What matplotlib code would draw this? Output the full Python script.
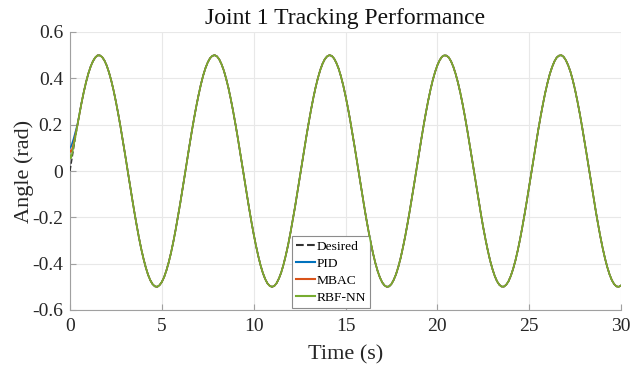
import matplotlib
matplotlib.use('Agg')
import matplotlib.pyplot as plt

# desired joint angle (rad) read every 0.25 s, t = 0 ... 30
desired_q = [
  0.000, 0.124, 0.240, 0.341, 0.421, 0.474, 0.499, 0.492, 0.455, 0.389,
  0.299, 0.191, 0.071, -0.054, -0.175, -0.286, -0.378, -0.448, -0.489, -0.500,
  -0.479, -0.429, -0.353, -0.254, -0.140, -0.017, 0.108, 0.225, 0.328, 0.412,
  0.469, 0.497, 0.495, 0.461, 0.399, 0.312, 0.206, 0.087, -0.038, -0.160,
  -0.272, -0.367, -0.440, -0.485, -0.500, -0.484, -0.438, -0.364, -0.268, -0.156,
  -0.033, 0.091, 0.210, 0.316, 0.402, 0.463, 0.495, 0.497, 0.467, 0.409,
  0.325, 0.221, 0.103, -0.021, -0.144, -0.258, -0.356, -0.432, -0.481, -0.500,
  -0.488, -0.446, -0.376, -0.282, -0.171, -0.050, 0.075, 0.195, 0.303, 0.392,
  0.456, 0.493, 0.498, 0.473, 0.418, 0.338, 0.236, 0.119, -0.004, -0.128,
  -0.244, -0.344, -0.423, -0.476, -0.499, -0.491, -0.453, -0.387, -0.296, -0.187,
  -0.066, 0.058, 0.180, 0.289, 0.381, 0.449, 0.490, 0.500, 0.478, 0.428,
  0.350, 0.250, 0.135, 0.012, -0.112, -0.229, -0.332, -0.414, -0.471, -0.498,
  -0.494,
]
# desired joint angle (rad) read halfway between, t = 0.125 ... 29.875
desired_m = [
  0.062, 0.183, 0.293, 0.384, 0.451, 0.490, 0.499, 0.477, 0.425, 0.347,
  0.247, 0.132, 0.008, -0.115, -0.232, -0.335, -0.416, -0.472, -0.498, -0.493,
  -0.458, -0.394, -0.306, -0.198, -0.079, 0.046, 0.168, 0.279, 0.373, 0.444,
  0.487, 0.500, 0.482, 0.434, 0.359, 0.261, 0.148, 0.025, -0.099, -0.218,
  -0.322, -0.407, -0.466, -0.496, -0.496, -0.464, -0.404, -0.319, -0.213, -0.095,
  0.029, 0.152, 0.265, 0.362, 0.436, 0.483, 0.500, 0.486, 0.442, 0.370,
  0.275, 0.163, 0.041, -0.083, -0.203, -0.309, -0.397, -0.460, -0.494, -0.498,
  -0.470, -0.414, -0.331, -0.228, -0.111, 0.013, 0.136, 0.251, 0.350, 0.427,
  0.478, 0.499, 0.490, 0.449, 0.381, 0.289, 0.179, 0.058, -0.067, -0.187,
  -0.296, -0.387, -0.453, -0.491, -0.499, -0.476, -0.423, -0.344, -0.243, -0.128,
  -0.004, 0.120, 0.236, 0.338, 0.419, 0.473, 0.498, 0.493, 0.456, 0.392,
  0.302, 0.194, 0.074, -0.050, -0.172, -0.283, -0.376, -0.446, -0.488, -0.500,
]

# start-up transient (first 0.5 s), finer sampling
t_start = [0.0, 0.05, 0.1, 0.2, 0.3, 0.4, 0.5]
desired_start = [0.000, 0.025, 0.050, 0.100, 0.148, 0.195, 0.240]
pid_start = [0.100, 0.105, 0.115, 0.140, 0.170, 0.200, 0.240]
mbac_start = [0.088, 0.082, 0.090, 0.120, 0.158, 0.196, 0.240]
rbf_start = [0.068, 0.055, 0.070, 0.110, 0.150, 0.195, 0.240]

x_ticks = [0, 5, 10, 15, 20, 25, 30]
y_ticks = [-0.6, -0.4, -0.2, 0, 0.2, 0.4, 0.6]
y_tick_labels = ['-0.6', '-0.4', '-0.2', '0', '0.2', '0.4', '0.6']

# merge the two readings into one time-ordered series
pts = [(0.25 * i, v) for i, v in enumerate(desired_q)] + \
      [(0.125 + 0.25 * i, v) for i, v in enumerate(desired_m)]
pts.sort()
pts = [p for p in pts if p[0] > t_start[-1]]
t_rest = [p[0] for p in pts]
y_rest = [p[1] for p in pts]

# after the transient all controllers sit on the desired trajectory
t_all = t_start + t_rest
des = desired_start + y_rest
pid = pid_start + y_rest
mbac = mbac_start + y_rest
rbf = rbf_start + y_rest

plt.rcParams['font.family'] = ['Liberation Serif', 'DejaVu Serif']

fig = plt.figure(figsize=(6.3, 3.69), dpi=100)
ax = fig.add_axes([70 / 630, 1 - 310 / 369, 551 / 630, 278 / 369])

ax.plot(t_all, des, '--', color='#333333', lw=1.0, label='Desired', zorder=3)
ax.plot(t_all, pid, color='#0072BD', lw=1.2, label='PID', zorder=4)
ax.plot(t_all, mbac, color='#D95319', lw=1.2, label='MBAC', zorder=5)
ax.plot(t_all, rbf, color='#77AC30', lw=1.2, label='RBF-NN', zorder=6)

ax.set_xlim(0, 30)
ax.set_ylim(-0.6, 0.6)
ax.set_xticks(x_ticks)
ax.set_yticks(y_ticks)
ax.set_yticklabels(y_tick_labels)
ax.tick_params(direction='in', length=4, width=0.8, color='#a0a0a0',
               labelsize=14, labelcolor='#262626')
ax.tick_params(axis='x', pad=6)
ax.tick_params(axis='y', pad=5)

ax.grid(True, color='#e8e8e8', lw=0.8)
ax.set_axisbelow(True)
for side in ['top', 'right']:
  ax.spines[side].set_visible(False)
for side in ['left', 'bottom']:
  ax.spines[side].set_color('#a0a0a0')
  ax.spines[side].set_linewidth(0.8)

ax.set_xlabel('Time (s)', fontsize=16, color='#262626', labelpad=7)
ax.set_ylabel('Angle (rad)', fontsize=16, color='#262626')
# label sits tight against the tick labels, as in the original
ax.yaxis.set_label_coords(-0.066, 0.5)
ax.set_title('Joint 1 Tracking Performance', fontsize=17, color='#111111', pad=6)

leg = ax.legend(loc='lower left', bbox_to_anchor=(0.403, 0.007), borderaxespad=0,
                fontsize=9.7, handlelength=1.4, handletextpad=0.1, labelspacing=0.35,
                borderpad=0.3, fancybox=False, framealpha=1)
leg.get_frame().set_edgecolor('#8c8c8c')
leg.get_frame().set_linewidth(0.8)
for line in leg.get_lines():
  line.set_linewidth(1.5)

fig.savefig('out.png', dpi=100)
